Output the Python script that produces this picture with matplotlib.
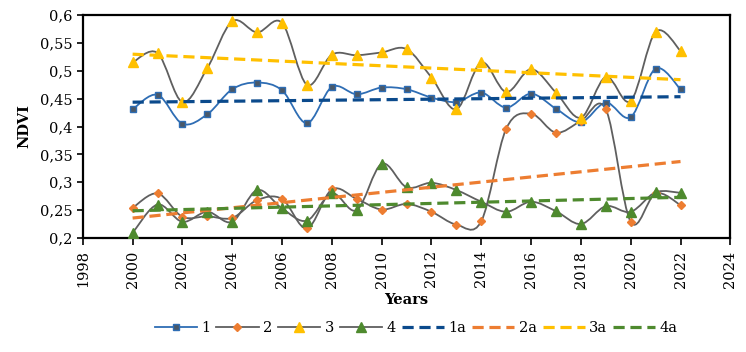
import numpy as np
import matplotlib
matplotlib.use("Agg")
import matplotlib.pyplot as plt
from matplotlib.path import Path
from matplotlib.patches import PathPatch
from matplotlib.lines import Line2D
from matplotlib.ticker import FuncFormatter, MultipleLocator

plt.rcParams['font.family'] = ['DejaVu Serif']

years = list(range(2000, 2023))
s1 = [0.431, 0.457, 0.405, 0.422, 0.467, 0.479, 0.465, 0.406, 0.471, 0.458,
      0.470, 0.467, 0.452, 0.444, 0.461, 0.434, 0.459, 0.432, 0.408, 0.443,
      0.417, 0.504, 0.467]
s2 = [0.254, 0.280, 0.238, 0.239, 0.236, 0.268, 0.270, 0.217, 0.287, 0.270,
      0.251, 0.261, 0.247, 0.224, 0.230, 0.396, 0.423, 0.389, 0.410, 0.431,
      0.229, 0.280, 0.259]
s3 = [0.515, 0.532, 0.444, 0.505, 0.589, 0.569, 0.586, 0.475, 0.529, 0.528,
      0.533, 0.539, 0.488, 0.431, 0.515, 0.462, 0.503, 0.461, 0.416, 0.489,
      0.446, 0.570, 0.536]
s4 = [0.209, 0.260, 0.229, 0.247, 0.229, 0.286, 0.253, 0.231, 0.280, 0.250,
      0.333, 0.291, 0.299, 0.286, 0.265, 0.247, 0.265, 0.248, 0.225, 0.257,
      0.247, 0.282, 0.281]
names = ['1', '2', '3', '4']


def smooth_path(x, y):
    # excel-like smoothed line: catmull-rom as cubic bezier
    p = np.column_stack([x, y]).astype(float)
    p = np.vstack([p[0], p, p[-1]])
    verts = [p[1]]
    codes = [Path.MOVETO]
    for i in range(1, len(p) - 2):
        c1 = p[i] + (p[i + 1] - p[i - 1]) / 6
        c2 = p[i + 1] - (p[i + 2] - p[i]) / 6
        verts += [c1, c2, p[i + 1]]
        codes += [Path.CURVE4] * 3
    return Path(verts, codes)


fig = plt.figure(figsize=(7.46, 3.52), dpi=100)
ax = fig.add_axes([0.111, 0.324, 0.868, 0.633])

styles = [
    dict(line='#2E6DB4', marker='s', mfc='#4A5868', mec='#2E6DB4', ms=5, trend='#0B4A8C'),
    dict(line='#5F5F5F', marker='D', mfc='#ED7D31', mec='#ED7D31', ms=4.2, trend='#ED7D31'),
    dict(line='#5F5F5F', marker='^', mfc='#FFC000', mec='#FFC000', ms=6.5, trend='#FFC000'),
    dict(line='#5F5F5F', marker='^', mfc='#4E8A2E', mec='#4E8A2E', ms=6.5, trend='#4E8A2E'),
]

series = [s1, s2, s3, s4]
handles = []
trend_handles = []
for name, s, st in zip(names, series, styles):
    ax.add_patch(PathPatch(smooth_path(years, s), fill=False, edgecolor=st['line'],
                           lw=1.3, zorder=3))
    ax.plot(years, s, ls='none', marker=st['marker'], mfc=st['mfc'], mec=st['mec'],
            mew=1.0, ms=st['ms'], zorder=4)
    handles.append(Line2D([], [], color=st['line'], lw=1.3, marker=st['marker'],
                          mfc=st['mfc'], mec=st['mec'], ms=st['ms'], label=name))

for name, s, st in zip(names, series, styles):
    k, b = np.polyfit(years, s, 1)
    xs = np.array([years[0], years[-1]])
    ax.plot(xs, k * xs + b, color=st['trend'], lw=2.3, ls=(0, (3.5, 1.8)), zorder=5)
    trend_handles.append(Line2D([], [], color=st['trend'], lw=2.3, ls=(0, (3.5, 1.8)),
                                label=name + 'a'))

ax.set_xlim(1998, 2024)
ax.set_ylim(0.2, 0.6)
ax.xaxis.set_major_locator(MultipleLocator(2))
ax.yaxis.set_major_locator(MultipleLocator(0.05))
ax.yaxis.set_major_formatter(FuncFormatter(lambda v, p: ('%g' % round(v, 2)).replace('.', ',')))
ax.tick_params(axis='x', labelrotation=90, labelsize=10.5, length=5, width=1.2,
               direction='out', pad=4)
ax.tick_params(axis='y', labelsize=10.5, length=4, width=1.2, direction='out')
for sp in ax.spines.values():
    sp.set_linewidth(1.6)
    sp.set_color('black')

ax.set_xlabel('Years', fontsize=10.5, fontweight='bold', labelpad=4)
ax.set_ylabel('NDVI', fontsize=10.5, fontweight='bold', labelpad=6)

fig.legend(handles=handles + trend_handles, loc='center', bbox_to_anchor=(0.558, 0.068),
           ncol=8, frameon=False, fontsize=10.5, handlelength=2.9, columnspacing=0.4,
           handletextpad=0.3)

fig.savefig('out.png', dpi=100)
